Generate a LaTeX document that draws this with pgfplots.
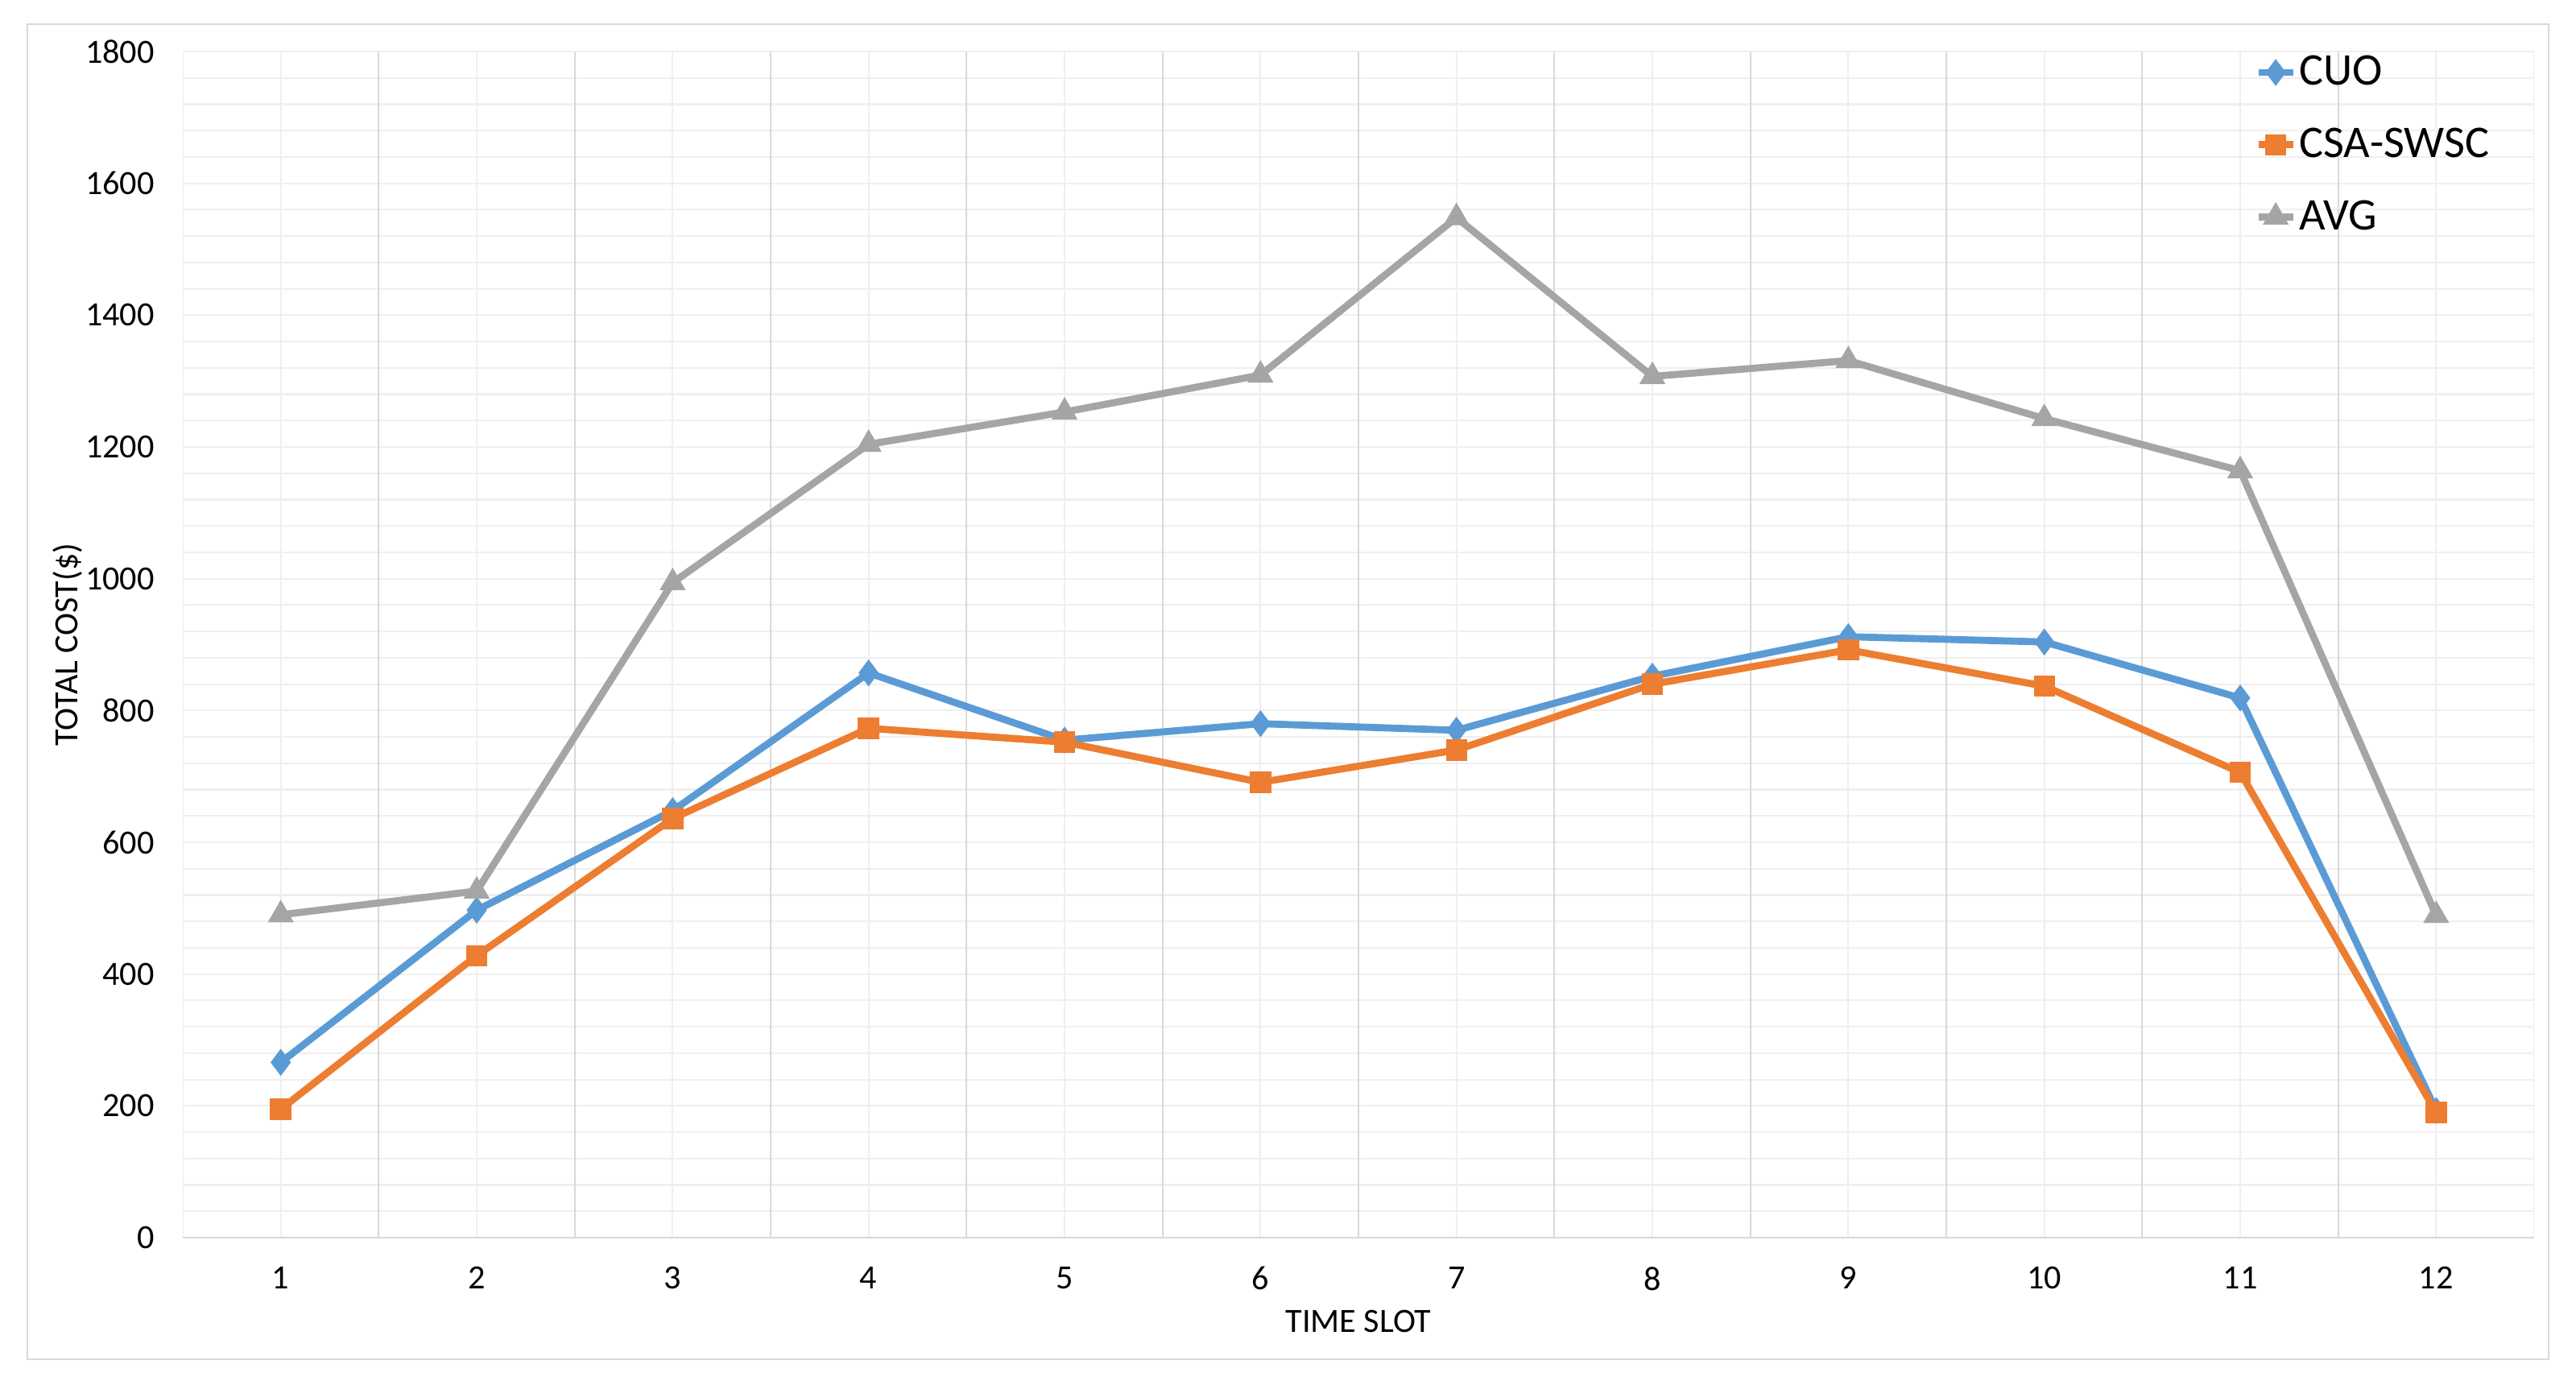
\documentclass[border=0pt]{standalone}
\usepackage{pgfplots}
\pgfplotsset{compat=1.18}
\usepackage{fontspec}
\setmainfont{Carlito}
\definecolor{cuo}{HTML}{5B9BD5}
\definecolor{csa}{HTML}{ED7D31}
\definecolor{avg}{HTML}{A5A5A5}
\definecolor{gridlight}{HTML}{EFEFEF}
\definecolor{griddark}{HTML}{D9D9D9}
\begin{document}
\begin{tikzpicture}
\useasboundingbox (0,0) rectangle (31.99cm,17.14cm);
\fill[white] (0,0) rectangle (31.99cm,17.14cm);
\draw[griddark, line width=0.6pt] (0.34cm,0.26cm) rectangle (31.65cm,16.84cm);
\begin{axis}[
  at={(2.27cm,1.77cm)}, anchor=south west,
  scale only axis, width=29.20cm, height=14.73cm,
  xmin=0.5, xmax=12.5, ymin=0, ymax=1800,
  xtick={1,...,12}, ytick={0,200,...,1800},
  minor ytick={0,40,...,1800},
  extra x ticks={1.5,2.5,...,11.5}, extra x tick labels={},
  extra x tick style={grid=major, major grid style={griddark, line width=0.6pt}},
  grid=both,
  major grid style={gridlight, line width=0.6pt},
  minor grid style={gridlight, line width=0.6pt},
  major tick length=0pt, minor tick length=0pt,
  axis line style={draw=none},
  scaled y ticks=false,
  /pgf/number format/1000 sep={},
  /pgf/number format/assume math mode=true,
  tick label style={font=\fontsize{12}{14}\selectfont},
  yticklabel style={xshift=-0.23cm},
  xticklabel style={yshift=-0.24cm},
  xlabel={TIME SLOT}, ylabel={TOTAL COST(\$)},
  label style={font=\fontsize{12}{14}\selectfont},
  xlabel style={at={(axis description cs:0.5,-0.0706)}, anchor=center},
  ylabel style={at={(axis description cs:-0.049,0.5)}, anchor=center},
  legend cell align=left,
  legend style={at={(axis description cs:0.881,0.997)}, anchor=north west,
    draw=none, fill=none, inner sep=0pt, row sep=0.48cm,
    font=\fontsize{16}{19}\selectfont, nodes={inner sep=0pt, inner xsep=1pt}},
  legend image code/.code={\draw[mark repeat=2,mark phase=2,#1] plot coordinates {(0cm,0cm) (0.215cm,0cm) (0.43cm,0cm)};},
]
\draw[gridlight, line width=0.6pt] (rel axis cs:0,0) rectangle (rel axis cs:1,1);
\draw[griddark, line width=0.8pt] (rel axis cs:0,0) -- (rel axis cs:1,0);
\addplot[cuo, line width=2.5pt, mark=diamond*, mark size=2.7pt, mark options={solid}]
  coordinates {(1,266) (2,497) (3,648) (4,857) (5,755) (6,780) (7,770) (8,852) (9,912) (10,904) (11,819) (12,193)};
\addlegendentry{CUO}
\addplot[csa, line width=2.5pt, mark=square*, mark size=2.5pt, mark options={solid}]
  coordinates {(1,195) (2,428) (3,636) (4,773) (5,752) (6,691) (7,740) (8,840) (9,892) (10,837) (11,706) (12,190)};
\addlegendentry{CSA-SWSC}
\addplot[avg, line width=2.5pt, mark=triangle*, mark size=2.8pt, mark options={solid}]
  coordinates {(1,490) (2,526) (3,994) (4,1204) (5,1253) (6,1309) (7,1548) (8,1307) (9,1331) (10,1243) (11,1164) (12,489)};
\addlegendentry{AVG}
\end{axis}
\end{tikzpicture}
\end{document}
